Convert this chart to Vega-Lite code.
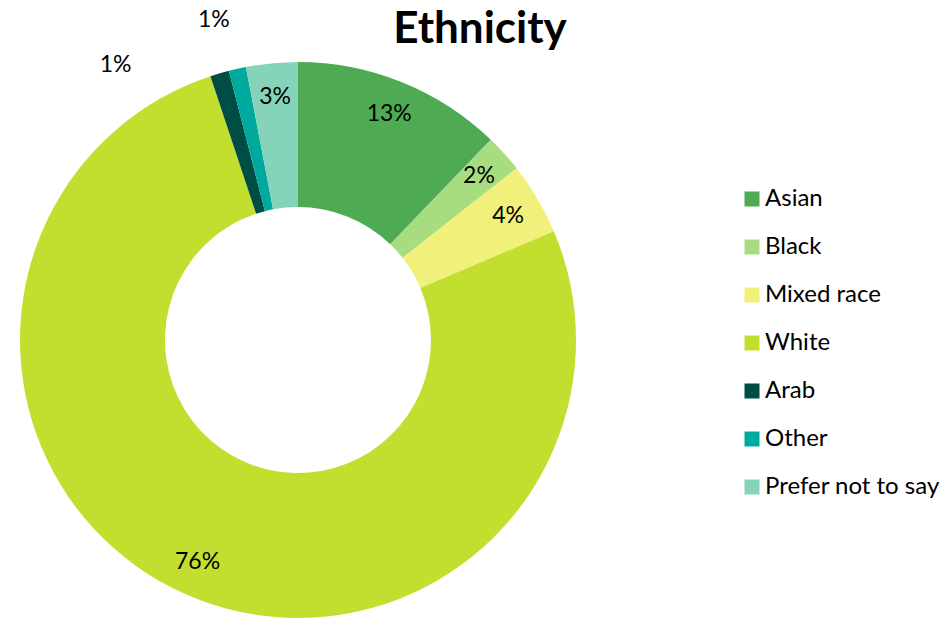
{
  "$schema": "https://vega.github.io/schema/vega-lite/v6.json",
  "width": 556,
  "height": 556,
  "autosize": {"type": "none"},
  "padding": {"left": 20, "top": 62, "right": 375, "bottom": 6},
  "background": "white",
  "title": {"text": "Ethnicity", "font": "Lato", "fontSize": 44, "fontWeight": "bold", "color": "#000000", "anchor": "middle", "frame": "group", "dx": 182, "offset": 0, "dy": 87, "baseline": "alphabetic"},
  "data": {"values": [
    {"cat": "Asian", "value": 12.2, "label": "13%", "idx": 1},
    {"cat": "Black", "value": 2.2, "label": "2%", "idx": 2},
    {"cat": "Mixed race", "value": 4.2, "label": "4%", "idx": 3},
    {"cat": "White", "value": 76.3, "label": "76%", "idx": 4},
    {"cat": "Arab", "value": 1.1, "label": "1%", "idx": 5},
    {"cat": "Other", "value": 1.0, "label": "1%", "idx": 6},
    {"cat": "Prefer not to say", "value": 3.0, "label": "3%", "idx": 7}
  ]},
  "encoding": {
    "theta": {"field": "value", "type": "quantitative", "stack": true},
    "order": {"field": "idx", "type": "quantitative"}
  },
  "layer": [
    {
      "mark": {"type": "arc", "innerRadius": 133, "outerRadius": 278},
      "encoding": {
        "color": {
          "field": "cat", "type": "nominal",
          "scale": {
            "domain": ["Asian", "Black", "Mixed race", "White", "Arab", "Other", "Prefer not to say"],
            "range": ["#4EAB53", "#A8DC80", "#F1F07A", "#C2DF2F", "#004D45", "#00A99D", "#85D4BA"]
          },
          "legend": {
            "title": null, "orient": "none", "legendX": 720, "legendY": 125,
            "symbolType": "square", "symbolSize": 225, "symbolStrokeWidth": 0, "symbolOpacity": 1,
            "labelFont": "Lato", "labelFontSize": 24, "labelColor": "#000000", "labelLimit": 400,
            "rowPadding": 24, "labelOffset": 1
          }
        }
      }
    },
    {
      "mark": {"type": "text", "radius": 244, "font": "Lato", "fontSize": 23, "color": "#000000"},
      "encoding": {
        "text": {"condition": {"test": "datum.idx <= 4 || datum.idx == 7", "field": "label", "type": "nominal"}, "value": ""}
      }
    },
    {
      "mark": {"type": "text", "radius": 330, "thetaOffset": -0.3, "font": "Lato", "fontSize": 23, "color": "#000000"},
      "encoding": {
        "text": {"condition": {"test": "datum.idx == 5", "field": "label", "type": "nominal"}, "value": ""}
      }
    },
    {
      "mark": {"type": "text", "radius": 331, "thetaOffset": -0.037, "font": "Lato", "fontSize": 23, "color": "#000000"},
      "encoding": {
        "text": {"condition": {"test": "datum.idx == 6", "field": "label", "type": "nominal"}, "value": ""}
      }
    }
  ]
}
